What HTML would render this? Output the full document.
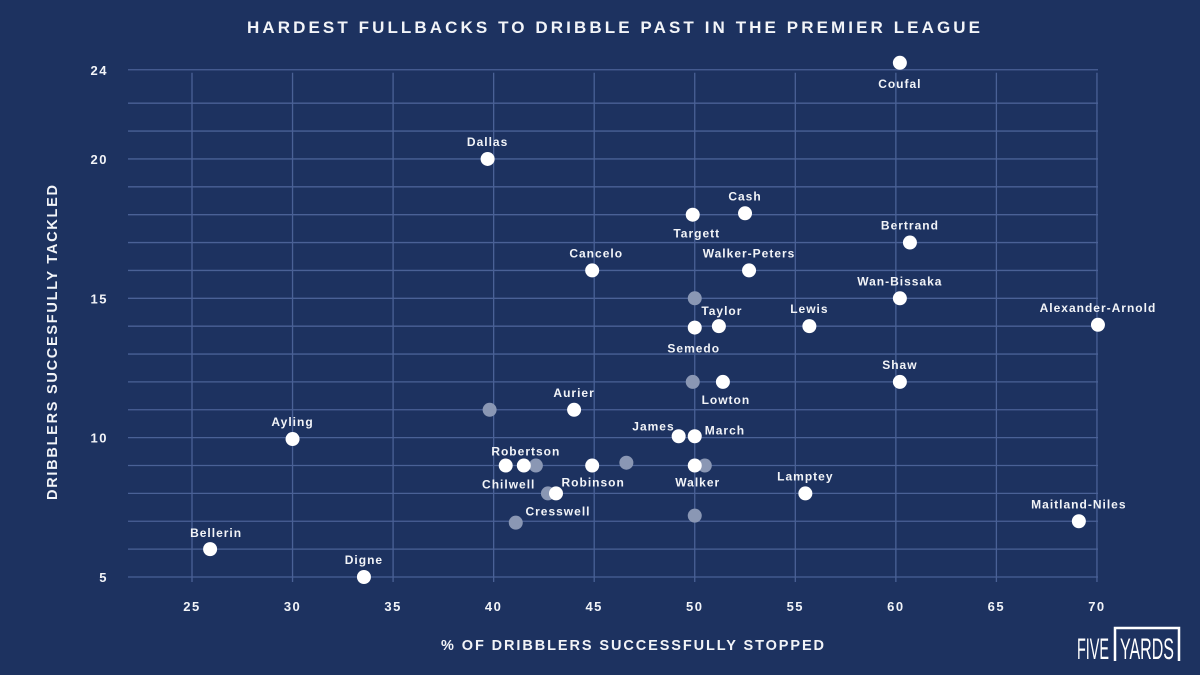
<!DOCTYPE html>
<html><head><meta charset="utf-8"><style>
html,body{margin:0;padding:0;background:#1d3260;}
svg{display:block;font-family:"Liberation Sans",sans-serif;font-weight:bold;}
</style></head><body>
<svg id="chart" width="1200" height="675" viewBox="0 0 1200 675">
<rect width="1200" height="675" fill="#1d3260"/>
<text x="247" y="33" fill="#f2f4f8" font-size="17" textLength="733" lengthAdjust="spacing">HARDEST FULLBACKS TO DRIBBLE PAST IN THE PREMIER LEAGUE</text>
<text x="441" y="650" fill="#f2f4f8" font-size="14.5" textLength="383" lengthAdjust="spacing">% OF DRIBBLERS SUCCESSFULLY STOPPED</text>
<text transform="translate(57,500) rotate(-90)" fill="#f2f4f8" font-size="14.5" textLength="315" lengthAdjust="spacing">DRIBBLERS SUCCESFULLY TACKLED</text>
<g id="grid"></g><g id="ticks"></g><g id="faded"></g><g id="points"></g>
<g>
<text x="1077" y="659" fill="#fff" font-size="30" font-weight="normal" textLength="32" lengthAdjust="spacingAndGlyphs">FIVE</text>
<text x="1120" y="659" fill="#fff" font-size="30" font-weight="normal" textLength="54" lengthAdjust="spacingAndGlyphs">YARDS</text>
<path d="M1115 661 V628 H1179 V661" fill="none" stroke="#fff" stroke-width="2.5"/>
</g>
</svg>
<script>
const names=["Coufal","Dallas","Cash","Targett","Bertrand","Cancelo","Walker-Peters","Wan-Bissaka","Alexander-Arnold","Taylor","Semedo","Lewis","Shaw","Lowton","Aurier","Ayling","James","March","Robertson","Chilwell","Robinson","Walker","Lamptey","Maitland-Niles","Cresswell","Bellerin","Digne"];
const stoppedPct=[60.2,39.7,52.5,49.9,60.7,44.9,52.7,60.2,70.05,51.2,50.0,55.7,60.2,51.4,44.0,30.0,49.2,50.0,41.5,40.6,44.9,50.0,55.5,69.1,43.1,25.9,33.55];
const tackled=[23.45,20,18.05,18,17,16,16,15,14.05,14,13.95,14,12,12,11,9.95,10.05,10.05,9,9,9,9,8,7,8,6,5];
const fadedX=[50.0,49.9,39.8,42.1,46.6,50.5,42.7,41.1,50.0];
const fadedY=[15,12,11,9,9.1,9,8,6.95,7.2];
const xTicks=[25,30,35,40,45,50,55,60,65,70];
const yTicks=[5,10,15,20,23.2];
const yTickLabels=["5","10","15","20","24"];
const yGrid=[5,6,7,8,9,10,11,12,13,14,15,16,17,18,19,20,21,22,23.2];
const lab={"Coufal":[0,25],"Targett":[4,23],"Semedo":[-1,25],"Lowton":[3,22],"Chilwell":[3,23],"Robinson":[1,21],"Walker":[3,21],"Cresswell":[2,22],"James":[-4,-6,"end"],"March":[10,-2,"start"],"Cancelo":[4,-13],"Taylor":[3,-11],"Robertson":[2,-10],"Bellerin":[6,-12]};
const X=v=>192+(v-25)*20.11, Y=v=>577-(v-5)*27.87;
const NS="http://www.w3.org/2000/svg";
function mk(t,p,a){const e=document.createElementNS(NS,t);for(const k in a)e.setAttribute(k,a[k]);document.getElementById(p).appendChild(e);return e;}
const plotTop=Y(23.2);
yGrid.forEach(v=>{const l=mk("line","grid",{x1:128,x2:1098,y1:Y(v),y2:Y(v),stroke:"#4a6196","stroke-width":1.3});

});
xTicks.forEach(v=>{const l=mk("line","grid",{x1:X(v),x2:X(v),y1:plotTop+3,y2:582,stroke:"#4a6196","stroke-width":1.3});


const t=mk("text","ticks",{x:X(v),y:611,"text-anchor":"middle",fill:"#f2f4f8","font-size":13,"letter-spacing":1.5});t.textContent=v;

});
yTicks.forEach((v,i)=>{const t=mk("text","ticks",{x:108,y:Y(v)+5,"text-anchor":"end",fill:"#f2f4f8","font-size":13,"letter-spacing":1.5});t.textContent=yTickLabels[i];

});
fadedX.forEach((v,i)=>{const c=mk("circle","faded",{cx:X(v),cy:Y(fadedY[i]),r:7,fill:"#8a97b4"});

});
names.forEach((n,i)=>{const cx=X(stoppedPct[i]),cy=Y(tackled[i]);
const c=mk("circle","points",{cx:cx,cy:cy,r:7,fill:"#fff"});


const o=lab[n]||[0,-13,"middle"];
const t=mk("text","points",{x:cx+o[0],y:cy+o[1],"text-anchor":o[2]||"middle",fill:"#f2f4f8","font-size":12,"letter-spacing":1});t.textContent=n;

});
</script>
</body></html>
